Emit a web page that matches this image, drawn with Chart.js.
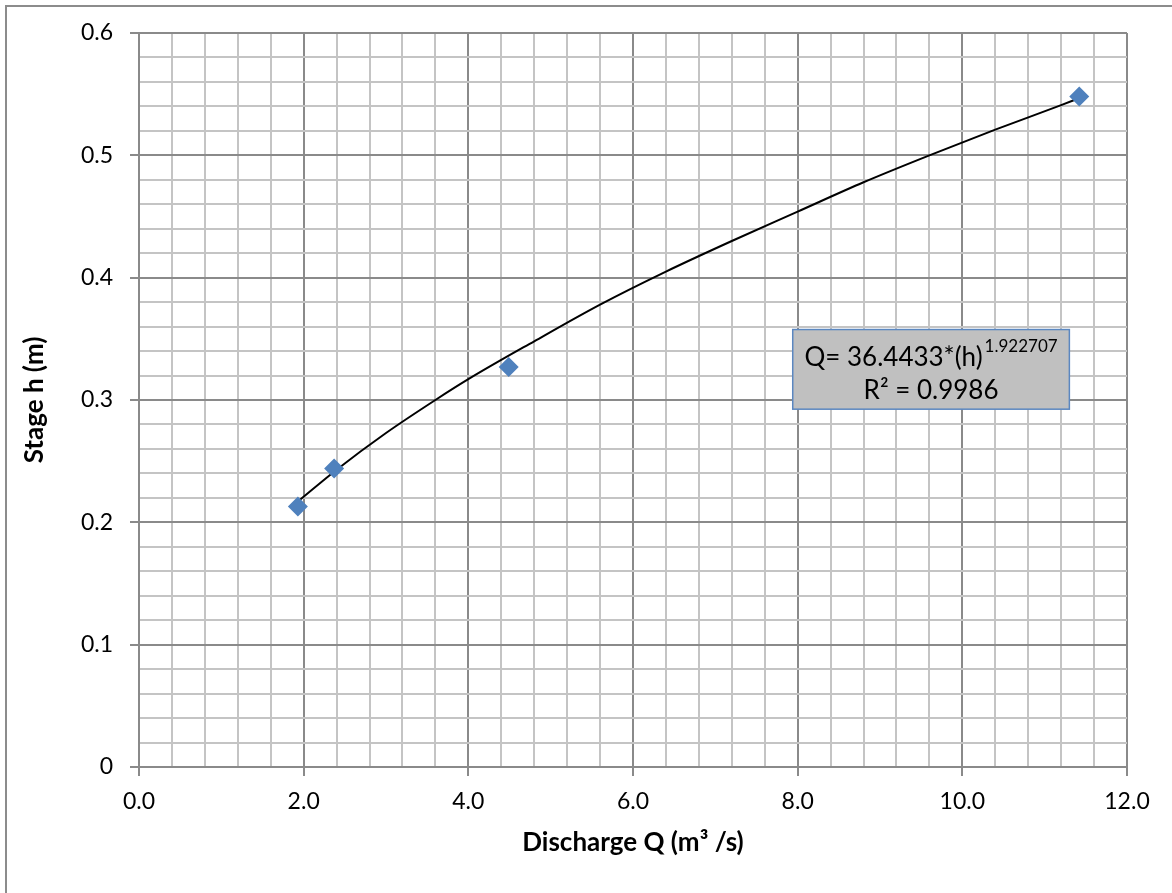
<!DOCTYPE html>
<html>
<head>
<meta charset="utf-8">
<script src="https://cdn.jsdelivr.net/npm/chart.js@4.4.1/dist/chart.umd.min.js"></script>
<style>
  html, body { margin: 0; padding: 0; background: #ffffff; }
  #wrap { position: relative; width: 1172px; height: 893px; }
</style>
</head>
<body>
<div id="wrap"><canvas id="c" width="1172" height="893"></canvas></div>
<script>
// ---- data ----
const dischargeQ = [1.93, 2.37, 4.49, 11.42];          // m3/s
const stageH     = [0.213, 0.244, 0.327, 0.548];       // m

// power trend line (as drawn in the picture)
const trendQ = [1.93, 2.4, 3.0, 3.6, 4.0, 4.8, 5.6, 6.4, 7.2, 8.0, 8.8, 9.6, 10.4, 11.2, 11.43];
const trendH = [0.217, 0.243, 0.273, 0.300, 0.317, 0.348, 0.378, 0.405, 0.430, 0.454, 0.478, 0.500, 0.521, 0.541, 0.547];

const xTickLabels = ['0.0', '2.0', '4.0', '6.0', '8.0', '10.0', '12.0'];
const yTickLabels = ['0', '0.1', '0.2', '0.3', '0.4', '0.5', '0.6'];
const xMajorStep = 2, xMinorStep = 0.4;
const yMajorStep = 0.1, yMinorStep = 0.02;

const equationText = 'Q= 36.4433*(h)';
const equationExp = '1.922707';
const r2Text = 'R² = 0.9986';
const xTitle = 'Discharge Q (m³ /s)';
const yTitle = 'Stage h (m)';

// ---- helpers ----
const FONT = 'Lato, "Open Sans", sans-serif';
const MAJOR_C = '#8a8a8a', MINOR_C = '#c4c4c4';

function buildTicks(step, majors, nMajorMinor) {
  const ticks = [];
  const total = (majors - 1) * nMajorMinor;
  for (let i = 0; i <= total; i++) ticks.push({ value: +(i * step).toFixed(6), major: i % nMajorMinor === 0, idx: i / nMajorMinor });
  return ticks;
}

const scatterData = dischargeQ.map((q, i) => ({ x: q, y: stageH[i] }));
const trendData = trendQ.map((q, i) => ({ x: q, y: trendH[i] }));

const frame = {
  id: 'frame',
  beforeDraw(chart) {
    const ctx = chart.ctx;
    ctx.save();
    ctx.strokeStyle = '#8c8c8c';
    ctx.lineWidth = 2;
    ctx.beginPath();
    ctx.moveTo(6, 893);
    ctx.lineTo(6, 6);
    ctx.lineTo(1172, 6);
    ctx.stroke();
    ctx.restore();
  }
};

const eqBox = {
  id: 'eqBox',
  afterDatasetsDraw(chart) {
    const xs = chart.scales.x, ys = chart.scales.y, ctx = chart.ctx;
    const l = xs.getPixelForValue(7.94), r = xs.getPixelForValue(11.30);
    const t = ys.getPixelForValue(0.3576), b = ys.getPixelForValue(0.2925);
    ctx.save();
    ctx.fillStyle = '#c0c0c0';
    ctx.fillRect(l, t, r - l, b - t);
    ctx.strokeStyle = '#5b87c0';
    ctx.lineWidth = 1.5;
    ctx.strokeRect(l, t, r - l, b - t);
    ctx.fillStyle = '#000';
    ctx.textBaseline = 'alphabetic';
    const cx = (l + r) / 2;
    ctx.font = '26px ' + FONT;
    const w1 = ctx.measureText(equationText).width;
    ctx.font = '17px ' + FONT;
    const w2 = ctx.measureText(equationExp).width;
    const start = cx - (w1 + w2 + 2) / 2;
    ctx.font = '26px ' + FONT;
    ctx.textAlign = 'left';
    ctx.fillText(equationText, start, t + 36);
    ctx.font = '17px ' + FONT;
    ctx.fillText(equationExp, start + w1 + 2, t + 22);
    ctx.font = '26px ' + FONT;
    ctx.textAlign = 'center';
    ctx.fillText(r2Text, cx, t + 69);
    ctx.restore();
  }
};

new Chart(document.getElementById('c'), {
  type: 'scatter',
  data: {
    datasets: [
      {
        label: 'Trend',
        data: trendData,
        showLine: true,
        borderColor: '#000000',
        borderWidth: 2,
        pointRadius: 0,
        cubicInterpolationMode: 'monotone',
        order: 2
      },
      {
        label: 'Observed',
        data: scatterData,
        pointStyle: 'rectRot',
        pointRadius: 10,
        pointBackgroundColor: '#4f81bd',
        pointBorderColor: '#4f81bd',
        pointBorderWidth: 0,
        order: 1
      }
    ]
  },
  options: {
    responsive: false,
    animation: false,
    devicePixelRatio: 1,
    layout: { padding: { top: 33, right: 45, left: 0, bottom: 0 } },
    plugins: { legend: { display: false }, tooltip: { enabled: false } },
    scales: {
      x: {
        type: 'linear',
        min: 0, max: 12,
        afterFit(s) { s.height = 126; },
        afterBuildTicks(s) { s.ticks = buildTicks(xMinorStep, xTickLabels.length, xMajorStep / xMinorStep); },
        border: { display: true, color: MAJOR_C, width: 2 },
        grid: {
          lineWidth: 2,
          color: c => (c.tick && c.tick.major) ? MAJOR_C : MINOR_C,
          tickColor: c => (c.tick && c.tick.major) ? MAJOR_C : 'rgba(0,0,0,0)',
          tickLength: 9,
          drawTicks: true
        },
        ticks: {
          autoSkip: false,
          maxRotation: 0,
          padding: 12,
          color: '#000',
          font: { family: FONT, size: 23 },
          callback: function (v, i, ticks) { const t = ticks[i]; return t.major ? xTickLabels[Math.round(t.idx)] : ''; }
        },
        title: {
          display: true,
          text: xTitle,
          color: '#000',
          font: { family: FONT, size: 26, weight: 'bold' },
          padding: { top: 0, bottom: 35 }
        }
      },
      y: {
        type: 'linear',
        min: 0, max: 0.6,
        afterFit(s) { s.width = 139; },
        afterBuildTicks(s) { s.ticks = buildTicks(yMinorStep, yTickLabels.length, Math.round(yMajorStep / yMinorStep)); },
        border: { display: true, color: MAJOR_C, width: 2 },
        grid: {
          lineWidth: 2,
          color: c => (c.tick && c.tick.major) ? MAJOR_C : MINOR_C,
          tickColor: c => (c.tick && c.tick.major) ? MAJOR_C : 'rgba(0,0,0,0)',
          tickLength: 9,
          drawTicks: true
        },
        ticks: {
          autoSkip: false,
          padding: 17,
          color: '#000',
          font: { family: FONT, size: 23 },
          callback: function (v, i, ticks) { const t = ticks[i]; return t.major ? yTickLabels[Math.round(t.idx)] : ''; }
        },
        title: {
          display: true,
          text: yTitle,
          color: '#000',
          font: { family: FONT, size: 26, weight: 'bold' },
          padding: { top: 19, bottom: 0 }
        }
      }
    }
  },
  plugins: [frame, eqBox]
});
</script>
</body>
</html>
